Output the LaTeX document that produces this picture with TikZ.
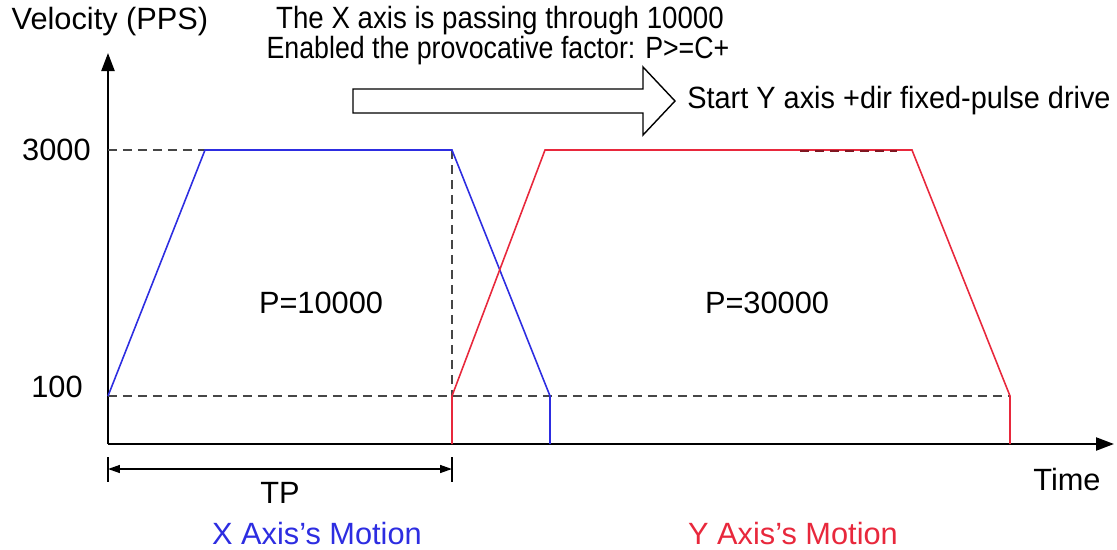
\documentclass[tikz,border=0pt]{standalone}
\usepackage{fontspec}
\setmainfont{Liberation Sans}
\usetikzlibrary{arrows.meta}
\definecolor{XBlue}{RGB}{45,45,225}
\definecolor{YRed}{RGB}{232,40,60}
\definecolor{GuideGray}{RGB}{70,70,70}

\begin{document}
\begin{tikzpicture}[x=0.02cm,y=-0.02cm,
  every node/.style={font=\fontsize{17.5}{21}\selectfont,inner sep=0pt},
  axis/.style={line width=1.3pt,-{Triangle[length=0.36cm,width=0.26cm]}},
  guide/.style={GuideGray,line width=0.8pt,dash pattern=on 0.18cm off 0.12cm},
  xprof/.style={XBlue,line width=0.9pt},
  yprof/.style={YRed,line width=0.9pt}]
\useasboundingbox (0,0) rectangle (1117,549);
% axes
\coordinate (o) at (108,444);
\coordinate (ytop) at (108,53);
\coordinate (xend) at (1114,444);
\draw[axis] (o) -- (ytop);
\draw[axis] (o) -- (xend);
\node[anchor=base] (vel) at (110,29) {Velocity (PPS)};
\node (time) at (1067,480) {Time};
\node[anchor=east] (v3000) at (91,150) {3000};
\node[anchor=east] (v100) at (83,387) {100};
% profile corners
\coordinate (xa) at (108,396);
\coordinate (xb) at (205,150);
\coordinate (xc) at (452,150);
\coordinate (xd) at (550,396);
\coordinate (xe) at (550,444);
\coordinate (ya) at (452,444);
\coordinate (yb) at (452,396);
\coordinate (yc) at (545,150);
\coordinate (yd) at (912,150);
\coordinate (ye) at (1010,396);
\coordinate (yf) at (1010,444);
% guides
\draw[guide] (v3000.east) ++(17,0) coordinate (g3) -- (xb);
\draw[guide] (xc) -- (yb);
\draw[guide] (xa) -- (ye);
% motion profiles
\draw[xprof] (xa) -- (xb) -- (xc) -- (xd) -- (xe);
\draw[yprof] (ya) -- (yb) -- (yc) -- (yd) -- (ye) -- (yf);
\draw[guide,YRed!55!black,line width=1pt] (800,151) coordinate (gs) -- (897,151) coordinate (gt);
\node (px) at (321,303) {P=10000};
\node (py) at (767,303) {P=30000};
% TP span
\coordinate (tpl) at (108,469);
\coordinate (tpr) at (452,469);
\draw[line width=0.6pt] (108,457) -- (108,482);
\draw[line width=0.6pt] (452,457) -- (452,482);
\draw[line width=0.8pt,{Triangle[length=0.24cm,width=0.16cm]}-{Triangle[length=0.24cm,width=0.16cm]}] (tpl) -- (tpr);
\node (tp) at (280,493) {TP};
\node[text=XBlue] (xmot) at (317,533) {X Axis’s Motion};
\node[text=YRed] (ymot) at (793,533) {Y Axis’s Motion};
% trigger note
\node[anchor=base] (note1) at (500,28) {\scalebox{0.9}[1]{The X axis is passing through 10000}};
\node[anchor=base] (note2) at (498,58) {\scalebox{0.87}[1]{Enabled the provocative factor: P>=C+}};
\draw[line width=0.8pt,fill=white] (353,89) -- (643,89) -- (643,67) -- (675,101) coordinate (tip) -- (643,135) -- (643,113) -- (353,113) -- cycle;
\node[anchor=west] (start) at (687,101) {\scalebox{0.94}[1]{Start Y axis +dir fixed-pulse drive}};
\end{tikzpicture}
\end{document}
